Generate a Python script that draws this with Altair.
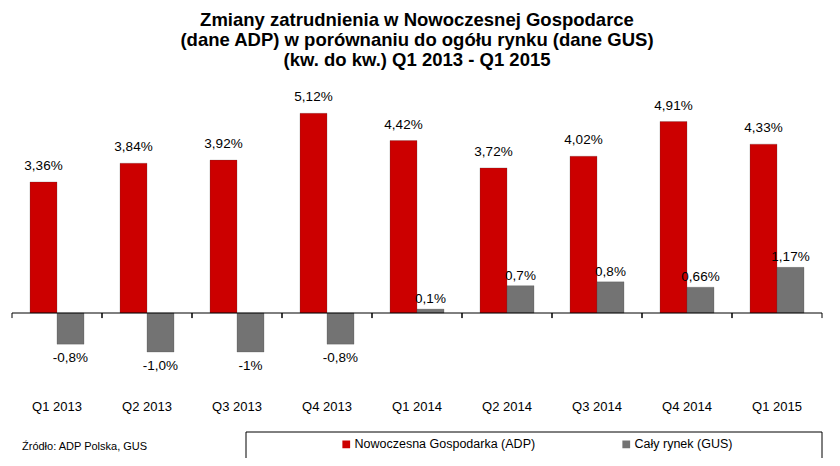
import altair as alt
import pandas as pd

quarters = ["Q1 2013", "Q2 2013", "Q3 2013", "Q4 2013", "Q1 2014",
            "Q2 2014", "Q3 2014", "Q4 2014", "Q1 2015"]
adp_values = [3.36, 3.84, 3.92, 5.12, 4.42, 3.72, 4.02, 4.91, 4.33]
adp_labels = ["3,36%", "3,84%", "3,92%", "5,12%", "4,42%", "3,72%", "4,02%", "4,91%", "4,33%"]
gus_values = [-0.8, -1.0, -1.0, -0.8, 0.1, 0.7, 0.8, 0.66, 1.17]
gus_labels = ["-0,8%", "-1,0%", "-1%", "-0,8%", "0,1%", "0,7%", "0,8%", "0,66%", "1,17%"]
series_names = ["Nowoczesna Gospodarka (ADP)", "Cały rynek (GUS)"]
series_colors = ["#cc0000", "#737373"]
title_lines = ["Zmiany zatrudnienia w Nowoczesnej Gospodarce",
               "(dane ADP) w porównaniu do ogółu rynku (dane GUS)",
               "(kw. do kw.) Q1 2013 - Q1 2015"]
source_text = "Źródło: ADP Polska, GUS"

rows = []
for q, v, l in zip(quarters, adp_values, adp_labels):
    rows.append({"quarter": q, "series": series_names[0], "value": v, "label": l})
for q, v, l in zip(quarters, gus_values, gus_labels):
    rows.append({"quarter": q, "series": series_names[1], "value": v, "label": l})
df = pd.DataFrame(rows)
df["zero"] = 0.0
df["tick"] = -0.13

FONT = "Liberation Sans"

x_scale = alt.Scale(domain=quarters, paddingInner=0, paddingOuter=0)
x_axis = alt.Axis(domain=False, ticks=False, labelAngle=0, labelPadding=9,
                  labelFont=FONT, labelFontSize=13, labelColor="black", grid=False)
x_bars = alt.X("quarter:N", sort=quarters, scale=x_scale, title=None, axis=x_axis)
x_off = alt.XOffset("series:N",
                    scale=alt.Scale(domain=series_names, paddingInner=0, paddingOuter=2 / 3))
y_scale = alt.Scale(domain=[-2, 6], nice=False, zero=False)
y_enc = alt.Y("value:Q", scale=y_scale, axis=None, title=None)
color_enc = alt.Color("series:N",
                      scale=alt.Scale(domain=series_names, range=series_colors),
                      legend=alt.Legend(title=None, orient="none", direction="horizontal",
                                        legendX=328, legendY=359,
                                        symbolType="square", labelLimit=400,
                                        symbolSize=60, symbolStrokeWidth=0,
                                        labelFont=FONT, labelFontSize=12.5,
                                        labelColor="black", labelOffset=2,
                                        columnPadding=84))

base = alt.Chart(df)
is_adp = alt.datum.series == series_names[0]
is_gus = alt.datum.series == series_names[1]
first_row = is_adp & (alt.datum.quarter == quarters[0])

bars = base.mark_bar(stroke="#404040", strokeWidth=0.4, strokeOpacity=0.6).encode(
    x=x_bars, xOffset=x_off, y=y_enc, y2="zero:Q", color=color_enc)

lab_adp = base.transform_filter(is_adp).mark_text(
    baseline="bottom", dy=-9, font=FONT, fontSize=13.5, color="black").encode(
    x=x_bars, xOffset=x_off, y=y_enc, text="label:N")
lab_gus_pos = base.transform_filter(is_gus & (alt.datum.value >= 0)).mark_text(
    baseline="bottom", dy=-3, font=FONT, fontSize=13.5, color="black").encode(
    x=x_bars, xOffset=x_off, y=y_enc, text="label:N")
lab_gus_neg = base.transform_filter(is_gus & (alt.datum.value < 0)).mark_text(
    baseline="top", dy=7, font=FONT, fontSize=13.5, color="black").encode(
    x=x_bars, xOffset=x_off, y=y_enc, text="label:N")

zero_line = base.transform_filter(first_row).mark_rule(color="black", strokeWidth=1).encode(
    y=alt.Y("zero:Q", scale=y_scale, axis=None, title=None))

ticks_left = base.transform_filter(is_adp).mark_rule(color="black").encode(
    x=alt.X("quarter:N", sort=quarters, scale=x_scale, title=None, axis=x_axis,
            bandPosition=0),
    y=alt.Y("zero:Q", scale=y_scale, axis=None, title=None), y2="tick:Q")
ticks_right = base.transform_filter(is_adp).mark_rule(color="black").encode(
    x=alt.X("quarter:N", sort=quarters, scale=x_scale, title=None, axis=x_axis,
            bandPosition=1),
    y=alt.Y("zero:Q", scale=y_scale, axis=None, title=None), y2="tick:Q")

legend_box = base.transform_filter(first_row).mark_rect(
    fillOpacity=0, stroke="black", strokeWidth=1).encode(
    x=alt.value(234), x2=alt.value(810), y=alt.value(353), y2=alt.value(383))
source = base.transform_filter(first_row).mark_text(
    align="left", baseline="middle", font=FONT, fontSize=11, color="black").encode(
    x=alt.value(10), y=alt.value(368), text=alt.value(source_text))

chart = alt.layer(
    bars, zero_line, ticks_left, ticks_right,
    lab_adp, lab_gus_pos, lab_gus_neg, legend_box, source
).properties(
    width=810, height=312,
    autosize=alt.AutoSizeParams(type="none"),
    padding={"left": 4, "top": 71, "right": 10, "bottom": 67},
    title=alt.Title(title_lines, anchor="middle", font=FONT, fontSize=18.5,
                    fontWeight="bold", lineHeight=20, offset=10, color="black"),
).configure_view(strokeWidth=0)

chart.save("out.html", embed_options={"renderer": "svg", "actions": False})
